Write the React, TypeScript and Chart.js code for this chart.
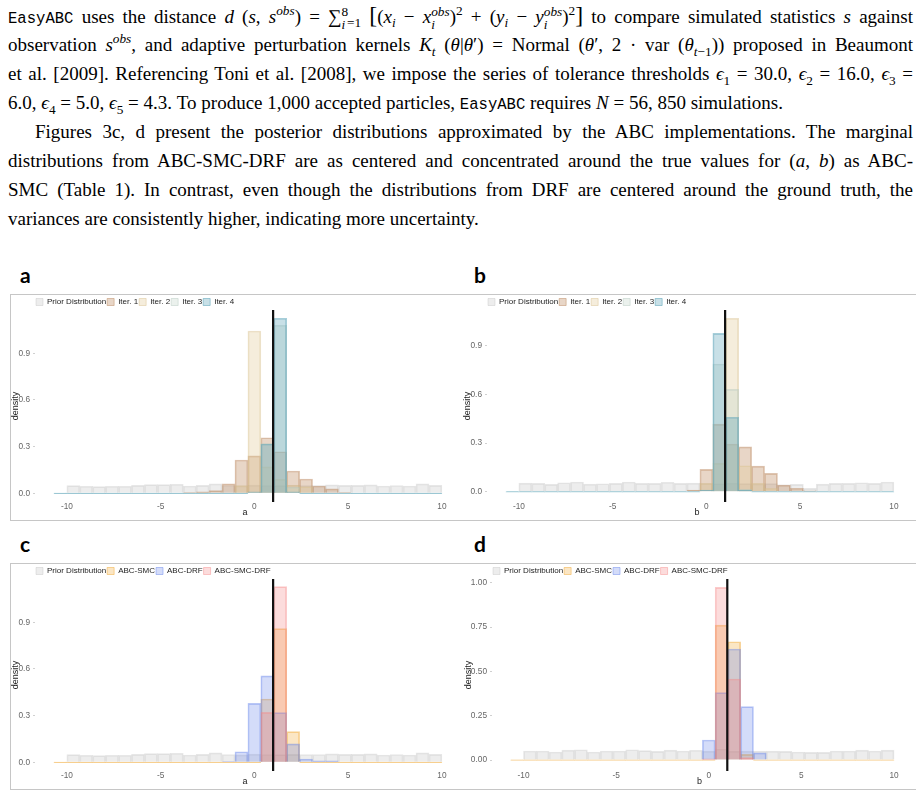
import React, { useEffect, useRef } from "react";
import { Chart, registerables } from "chart.js";

Chart.register(...registerables);

// ---------- data ----------
// shared histogram bin edges (30 bins)
const BIN_EDGES = [
  -10.69, -10.0, -9.311, -8.621, -7.931, -7.242, -6.552, -5.862, -5.172, -4.483,
  -3.793, -3.103, -2.414, -1.724, -1.034, -0.345, 0.345, 1.034, 1.724, 2.414,
  3.103, 3.793, 4.483, 5.172, 5.862, 6.552, 7.242, 7.931, 8.621, 9.311, 10.0,
];
const X_TICKS = [-10, -5, 0, 5, 10];
const X_RANGE = [-11.7, 10.7];
const Y_TICKS_ABC = [0, 0.3, 0.6, 0.9];
const Y_TICKS_D = [0, 0.25, 0.5, 0.75, 1.0];
const Y_RANGE_A = [-0.056, 1.178];
const Y_RANGE_B = [-0.0635, 1.12];
const Y_RANGE_C = [-0.056, 1.178];
const Y_RANGE_D = [-0.062, 1.021];
const TRUE_A = 1;
const TRUE_B = 1;

const ITER_LABELS = ["Prior Distribution", "Iter. 1", "Iter. 2", "Iter. 3", "Iter. 4"];
const METHOD_LABELS = ["Prior Distribution", "ABC-SMC", "ABC-DRF", "ABC-SMC-DRF"];

const PRIOR_A = [0, 0.049, 0.045, 0.043, 0.045, 0.045, 0.051, 0.056, 0.056, 0.058, 0.047, 0.051, 0.06, 0.05, 0.048, 0.052, 0.05, 0.049, 0.051, 0.05, 0.05, 0.054, 0.051, 0.051, 0.054, 0.047, 0.05, 0.047, 0.06, 0.051];
const PRIOR_B = [0, 0.053, 0.051, 0.045, 0.055, 0.06, 0.047, 0.049, 0.051, 0.06, 0.051, 0.051, 0.058, 0.051, 0.053, 0.05, 0.049, 0.052, 0.05, 0.048, 0.05, 0.043, 0.045, 0.02, 0.047, 0.051, 0.051, 0.055, 0.051, 0.06];
const PRIOR_D = [0, 0.051, 0.051, 0.045, 0.056, 0.058, 0.045, 0.051, 0.051, 0.058, 0.053, 0.049, 0.056, 0.051, 0.055, 0.05, 0.062, 0.05, 0.05, 0.05, 0.05, 0.049, 0.045, 0.043, 0.043, 0.051, 0.051, 0.056, 0.051, 0.056];

const ITER1_A = [0, 0, 0, 0, 0, 0, 0, 0, 0, 0, 0.005, 0.009, 0.017, 0.06, 0.214, 0.24, 0.357, 0.267, 0.143, 0.092, 0.047, 0.028, 0.005, 0, 0, 0, 0, 0, 0, 0];
const ITER2_A = [0, 0, 0, 0, 0, 0, 0, 0, 0, 0, 0, 0, 0, 0, 0.05, 1.043, 0.17, 0.09, 0.053, 0.043, 0, 0, 0, 0, 0, 0, 0, 0, 0, 0];
const ITER3_A = [0, 0, 0, 0, 0, 0, 0, 0, 0, 0, 0, 0, 0, 0, 0, 0, 0.32, 1.08, 0.04, 0, 0, 0, 0, 0, 0, 0, 0, 0, 0, 0];
const ITER4_A = [0, 0, 0, 0, 0, 0, 0, 0, 0, 0, 0, 0, 0, 0, 0, 0.01, 0.317, 1.125, 0.01, 0, 0, 0, 0, 0, 0, 0, 0, 0, 0, 0];

const ITER1_B = [0, 0, 0, 0, 0, 0, 0, 0, 0, 0, 0, 0, 0, 0, 0.01, 0.138, 0.417, 0.294, 0.276, 0.158, 0.113, 0.041, 0.021, 0.006, 0, 0, 0, 0, 0, 0];
const ITER2_B = [0, 0, 0, 0, 0, 0, 0, 0, 0, 0, 0, 0, 0, 0, 0, 0.052, 0.175, 1.069, 0.16, 0.052, 0.02, 0, 0, 0, 0, 0, 0, 0, 0, 0];
const ITER3_B = [0, 0, 0, 0, 0, 0, 0, 0, 0, 0, 0, 0, 0, 0, 0, 0, 0.787, 0.631, 0.015, 0, 0, 0, 0, 0, 0, 0, 0, 0, 0, 0];
const ITER4_B = [0, 0, 0, 0, 0, 0, 0, 0, 0, 0, 0, 0, 0, 0, 0, 0.01, 0.976, 0.459, 0.01, 0, 0, 0, 0, 0, 0, 0, 0, 0, 0, 0];

const SMC_A = [0, 0, 0, 0, 0, 0, 0, 0, 0, 0, 0, 0, 0, 0, 0, 0, 0.407, 0.859, 0.197, 0, 0, 0, 0, 0, 0, 0, 0, 0, 0, 0];
const DRF_A = [0, 0, 0, 0, 0, 0, 0, 0, 0, 0, 0, 0, 0, 0.005, 0.068, 0.379, 0.555, 0.319, 0.118, 0.021, 0.009, 0.009, 0, 0, 0, 0, 0, 0, 0, 0];
const SMCDRF_A = [0, 0, 0, 0, 0, 0, 0, 0, 0, 0, 0, 0, 0, 0, 0, 0, 0.321, 1.129, 0, 0, 0, 0, 0, 0, 0, 0, 0, 0, 0, 0];

const SMC_B = [0, 0, 0, 0, 0, 0, 0, 0, 0, 0, 0, 0, 0, 0, 0, 0, 0.761, 0.667, 0.032, 0, 0, 0, 0, 0, 0, 0, 0, 0, 0, 0];
const DRF_B = [0, 0, 0, 0, 0, 0, 0, 0, 0, 0, 0, 0, 0, 0, 0, 0.113, 0.38, 0.626, 0.301, 0.04, 0, 0, 0, 0, 0, 0, 0, 0, 0, 0];
const SMCDRF_B = [0, 0, 0, 0, 0, 0, 0, 0, 0, 0, 0, 0, 0, 0, 0, 0.006, 0.974, 0.457, 0.013, 0, 0, 0, 0, 0, 0, 0, 0, 0, 0, 0];

// ---------- styles ----------
const FONT = "'Liberation Sans', Arial, sans-serif";
const SERIF = "'Liberation Serif', 'Times New Roman', serif";
const MONO = "'Liberation Mono', 'DejaVu Sans Mono', monospace";

const PRIOR_STYLE = { fill: "rgba(195,195,195,0.30)", line: "rgba(185,185,185,0.35)" };
const ITER_STYLES = [
  PRIOR_STYLE,
  { fill: "rgba(190,140,100,0.36)", line: "rgba(190,140,100,0.5)" },
  { fill: "rgba(225,200,150,0.33)", line: "rgba(215,190,140,0.45)" },
  { fill: "rgba(195,212,200,0.33)", line: "rgba(180,200,190,0.45)" },
  { fill: "rgba(95,165,185,0.34)", line: "rgba(95,165,185,0.55)", baseline: true },
];
const METHOD_STYLES = [
  PRIOR_STYLE,
  { fill: "rgba(242,172,60,0.30)", line: "rgba(242,172,60,0.5)", baseline: true },
  { fill: "rgba(100,130,235,0.28)", line: "rgba(100,130,235,0.45)" },
  { fill: "rgba(245,130,130,0.28)", line: "rgba(245,130,130,0.42)" },
];

type PanelProps = {
  left: number;
  top: number;
  width: number;
  height: number;
  yAxisWidth: number;
  labels: string[];
  values: number[][];
  styles: any[];
  yRange: number[];
  yTicks: number[];
  yDecimals: number;
  xTitle: string;
  truth: number;
};

function HistogramPanel(p: PanelProps) {
  const ref = useRef<HTMLCanvasElement | null>(null);
  useEffect(() => {
    if (!ref.current) return;
    const centers = BIN_EDGES.slice(0, -1).map((e, k) => (e + BIN_EDGES[k + 1]) / 2);
    const n = p.labels.length;
    const datasets: any[] = p.labels.map((label, i) => ({
      type: "bar",
      label,
      data: p.values[i].map((v, k) => ({ x: centers[k], y: v })),
      backgroundColor: p.styles[i].fill,
      borderColor: p.styles[i].line,
      borderWidth: 1,
      minBarLength: p.styles[i].baseline ? 1 : 0,
      grouped: false,
      barPercentage: 1,
      categoryPercentage: 1,
      order: n - i,
    }));
    datasets.push({
      type: "line",
      label: "true value",
      data: [
        { x: p.truth, y: p.yRange[0] },
        { x: p.truth, y: p.yRange[1] },
      ],
      borderColor: "#111",
      borderWidth: 2.2,
      pointRadius: 0,
      order: 0,
    });
    const chart = new Chart(ref.current, {
      type: "bar",
      data: { datasets },
      options: {
        responsive: false,
        maintainAspectRatio: false,
        animation: false,
        events: [],
        layout: { padding: { left: 0, right: 5, top: 3, bottom: 2 } },
        plugins: {
          tooltip: { enabled: false },
          legend: {
            display: true,
            position: "top",
            align: "start",
            fullSize: false,
            maxHeight: 13,
            labels: {
              boxWidth: 7,
              boxHeight: 7,
              padding: 1,
              color: "#222",
              font: { size: 8, family: FONT },
              filter: (item: any) => item.datasetIndex < n,
              sort: (a: any, b: any) => a.datasetIndex - b.datasetIndex,
            },
          },
        },
        scales: {
          x: {
            type: "linear",
            min: X_RANGE[0],
            max: X_RANGE[1],
            offset: false,
            afterBuildTicks: (ax: any) => {
              ax.ticks = X_TICKS.map((v) => ({ value: v }));
            },
            afterFit: (ax: any) => {
              ax.height = 16;
            },
            grid: { display: false, drawTicks: false, tickLength: 0 },
            border: { display: false },
            ticks: {
              padding: 0,
              maxRotation: 0,
              autoSkip: false,
              color: "#666",
              font: { size: 8.3, family: FONT },
              callback: (v: any) => String(v),
            },
            title: {
              display: true,
              text: p.xTitle,
              color: "#222",
              font: { size: 9, family: FONT },
              padding: { top: 0, bottom: 0 },
            },
          },
          y: {
            type: "linear",
            min: p.yRange[0],
            max: p.yRange[1],
            afterBuildTicks: (ax: any) => {
              ax.ticks = p.yTicks.map((v) => ({ value: v }));
            },
            afterFit: (ax: any) => {
              ax.width = p.yAxisWidth;
            },
            grid: {
              display: true,
              drawOnChartArea: false,
              drawTicks: true,
              tickLength: 2,
              color: "#d0d0d0",
            },
            border: { display: false },
            ticks: {
              padding: 3,
              color: "#666",
              font: { size: 8.3, family: FONT },
              callback: (v: any) => Number(v).toFixed(p.yDecimals),
            },
            title: {
              display: true,
              text: "density",
              color: "#222",
              font: { size: 9, family: FONT },
              padding: { top: 0, bottom: 0 },
            },
          },
        },
      } as any,
    });
    return () => chart.destroy();
  }, []);
  return (
    <canvas
      ref={ref}
      width={p.width}
      height={p.height}
      style={{ position: "absolute", left: p.left, top: p.top, width: p.width, height: p.height }}
    />
  );
}

// ---------- text helpers ----------
const Sup = ({ children }: any) => (
  <span style={{ fontSize: "0.7em", position: "relative", top: "-0.6em", lineHeight: 0 }}>{children}</span>
);
const Sub = ({ children }: any) => (
  <span style={{ fontSize: "0.7em", position: "relative", top: "0.35em", lineHeight: 0 }}>{children}</span>
);
const SS = ({ sub, sup }: any) => (
  <span
    style={{
      display: "inline-flex",
      flexDirection: "column",
      fontSize: "0.7em",
      lineHeight: "0.95em",
      position: "relative",
      top: "-0.5em",
      verticalAlign: "baseline",
    }}
  >
    <span>{sup}</span>
    <span>{sub}</span>
  </span>
);
const Mono = ({ children }: any) => (
  <span style={{ fontFamily: MONO, fontSize: "0.82em" }}>{children}</span>
);
const Big = ({ children }: any) => (
  <span style={{ fontSize: "1.25em", lineHeight: 0 }}>{children}</span>
);

const LINE_TOPS = [1.5, 30.4, 59.3, 88.2, 117.1, 146, 174.9, 203.8];

function Line({ i, indent = 0, justify = true, children }: any) {
  return (
    <div
      style={{
        position: "absolute",
        left: 8 + indent,
        top: LINE_TOPS[i],
        width: 905 - indent,
        height: 29,
        lineHeight: "29px",
        fontFamily: SERIF,
        fontSize: 19,
        color: "#000",
        textAlign: justify ? "justify" : "left",
        textAlignLast: justify ? "justify" : "left",
      } as any}
    >
      {children}
    </div>
  );
}

function PanelLabel({ left, top, text }: any) {
  return (
    <div
      style={{
        position: "absolute",
        left,
        top,
        fontFamily: "Lato, 'Open Sans', sans-serif",
        fontWeight: 700,
        fontSize: 21,
        lineHeight: "21px",
        color: "#000",
      }}
    >
      {text}
    </div>
  );
}

function FrameBox({ top }: any) {
  return (
    <div
      style={{
        position: "absolute",
        left: 10,
        top,
        width: 905,
        height: 225,
        borderTop: "1px solid #c6c6c6",
        borderLeft: "1px solid #c6c6c6",
        borderBottom: "1px solid #c6c6c6",
      }}
    />
  );
}

export default function App() {
  return (
    <div style={{ position: "absolute", left: 0, top: 0, width: 921, height: 796, background: "#fff", overflow: "hidden" }}>
      <Line i={0}>
        <Mono>EasyABC</Mono> uses the distance <i>d</i> (<i>s</i>, <i>s</i>
        <Sup><i>obs</i></Sup>) = ∑<SS sub={<i>i</i>} sup="8" />
        <span style={{ fontSize: "0.7em", position: "relative", top: "0.35em", marginLeft: "-0.1em" }}>=1</span>{" "}
        <Big>[</Big>(<i>x</i><Sub><i>i</i></Sub> − <i>x</i><SS sub={<i>i</i>} sup={<i>obs</i>} />)<Sup>2</Sup> + (<i>y</i>
        <Sub><i>i</i></Sub> − <i>y</i><SS sub={<i>i</i>} sup={<i>obs</i>} />)<Sup>2</Sup><Big>]</Big> to compare simulated statistics <i>s</i> against
      </Line>
      <Line i={1}>
        observation <i>s</i><Sup><i>obs</i></Sup>, and adaptive perturbation kernels <i>K</i><Sub><i>t</i></Sub> (<i>θ</i>|<i>θ</i>′) = Normal (<i>θ</i>′, 2 · var (<i>θ</i>
        <Sub><i>t</i>−1</Sub>)) proposed in Beaumont
      </Line>
      <Line i={2}>
        et al. [2009]. Referencing Toni et al. [2008], we impose the series of tolerance thresholds <i>ϵ</i><Sub>1</Sub> = 30.0, <i>ϵ</i>
        <Sub>2</Sub> = 16.0, <i>ϵ</i><Sub>3</Sub> =
      </Line>
      <Line i={3} justify={false}>
        6.0, <i>ϵ</i><Sub>4</Sub> = 5.0, <i>ϵ</i><Sub>5</Sub> = 4.3. To produce 1,000 accepted particles, <Mono>EasyABC</Mono> requires <i>N</i> = 56, 850 simulations.
      </Line>
      <Line i={4} indent={27}>
        Figures 3c, d present the posterior distributions approximated by the ABC implementations. The marginal
      </Line>
      <Line i={5}>
        distributions from ABC-SMC-DRF are as centered and concentrated around the true values for (<i>a</i>, <i>b</i>) as ABC-
      </Line>
      <Line i={6}>
        SMC (Table 1). In contrast, even though the distributions from DRF are centered around the ground truth, the
      </Line>
      <Line i={7} justify={false}>
        variances are consistently higher, indicating more uncertainty.
      </Line>

      <PanelLabel left={20} top={264} text="a" />
      <PanelLabel left={474} top={264} text="b" />
      <PanelLabel left={20} top={533} text="c" />
      <PanelLabel left={474} top={533} text="d" />

      <FrameBox top={294} />
      <FrameBox top={563} />

      <HistogramPanel
        left={10}
        top={294}
        width={450}
        height={226}
        yAxisWidth={25}
        labels={ITER_LABELS}
        values={[PRIOR_A, ITER1_A, ITER2_A, ITER3_A, ITER4_A]}
        styles={ITER_STYLES}
        yRange={Y_RANGE_A}
        yTicks={Y_TICKS_ABC}
        yDecimals={1}
        xTitle="a"
        truth={TRUE_A}
      />
      <HistogramPanel
        left={462}
        top={294}
        width={450}
        height={226}
        yAxisWidth={25}
        labels={ITER_LABELS}
        values={[PRIOR_B, ITER1_B, ITER2_B, ITER3_B, ITER4_B]}
        styles={ITER_STYLES}
        yRange={Y_RANGE_B}
        yTicks={Y_TICKS_ABC}
        yDecimals={1}
        xTitle="b"
        truth={TRUE_B}
      />
      <HistogramPanel
        left={10}
        top={563}
        width={450}
        height={226}
        yAxisWidth={25}
        labels={METHOD_LABELS}
        values={[PRIOR_A, SMC_A, DRF_A, SMCDRF_A]}
        styles={METHOD_STYLES}
        yRange={Y_RANGE_C}
        yTicks={Y_TICKS_ABC}
        yDecimals={1}
        xTitle="a"
        truth={TRUE_A}
      />
      <HistogramPanel
        left={463}
        top={563}
        width={449}
        height={226}
        yAxisWidth={29}
        labels={METHOD_LABELS}
        values={[PRIOR_D, SMC_B, DRF_B, SMCDRF_B]}
        styles={METHOD_STYLES}
        yRange={Y_RANGE_D}
        yTicks={Y_TICKS_D}
        yDecimals={2}
        xTitle="b"
        truth={TRUE_B}
      />
    </div>
  );
}
